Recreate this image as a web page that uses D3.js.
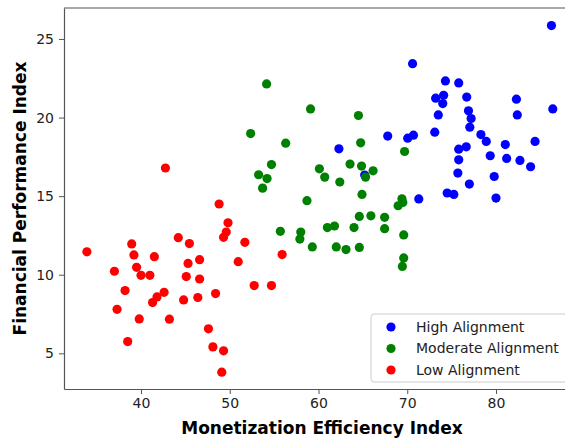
<!DOCTYPE html>
<html>
<head>
<meta charset="utf-8">
<script src="https://cdn.jsdelivr.net/npm/d3@7"></script>
<style>
    body { margin: 0; background: #fff; }
    svg { display: block; font-family: 'DejaVu Sans', sans-serif; }
</style>
</head>
<body>
<svg id="chart" width="565" height="439"></svg>
<script>

// data
const groupNames = ['High Alignment', 'Moderate Alignment', 'Low Alignment'];
const groupColors = ['#0000ff', '#008000', '#ff0000'];

const highX = [86.25, 70.6, 74.3, 75.8, 73.2, 74.1, 74.0, 76.7, 82.3, 86.4, 76.9, 77.2, 73.5,
    82.4, 77.05, 73.1, 70.05, 70.7, 78.3, 78.9, 84.4, 81.05, 75.8, 76.65, 75.8, 79.35, 81.2,
    82.7, 83.9, 75.7, 79.8, 77.0, 74.5, 75.25, 80.0, 71.3, 67.8, 62.3, 65.2];
const highY = [25.85, 23.43, 22.33, 22.2, 21.23, 21.42, 20.89, 21.3, 21.17, 20.55, 20.43, 19.94, 20.17,
    20.17, 19.39, 19.07, 18.69, 18.88, 18.92, 18.48, 18.48, 18.28, 17.99, 18.14, 17.31, 17.57, 17.4,
    17.27, 16.87, 16.47, 16.25, 15.77, 15.2, 15.11, 14.88, 14.82, 18.82, 18.01, 16.34];

const moderateX = [54.15, 52.35, 56.3, 54.7, 53.25, 54.2, 53.7, 59.1, 64.5, 64.75, 69.7, 60.1, 60.7,
    63.55, 64.85, 66.15, 65.3, 62.4, 64.9, 58.7, 69.4, 68.97, 69.5, 64.6, 65.9, 67.45, 61.0,
    61.8, 64.0, 67.45, 69.6, 62.0, 63.1, 64.6, 69.6, 69.45, 55.7, 58.0, 57.9, 59.3];
const moderateY = [22.14, 18.98, 18.37, 17.01, 16.36, 16.12, 15.51, 20.55, 20.13, 18.39, 17.84, 16.74, 16.21,
    17.04, 16.91, 16.61, 16.21, 15.9, 15.11, 14.71, 14.83, 14.39, 14.6, 13.71, 13.75, 13.65, 13.0,
    13.1, 13.0, 12.93, 12.53, 11.77, 11.6, 11.74, 11.07, 10.53, 12.76, 12.72, 12.27, 11.77];

const lowX = [33.9, 37.0, 38.95, 39.2, 39.5, 40.0, 41.0, 41.5, 38.2, 37.3, 39.8, 38.5, 41.3,
    41.8, 42.6, 43.2, 44.2, 45.45, 45.3, 45.1, 44.8, 46.6, 46.6, 46.4, 48.4, 47.6, 48.1,
    49.3, 49.1, 48.8, 49.8, 49.6, 49.3, 51.7, 50.95, 52.75, 54.7, 55.9, 42.75];
const lowY = [11.46, 10.22, 11.96, 11.26, 10.47, 9.96, 9.96, 11.15, 8.99, 7.8, 7.19, 5.75, 8.23,
    8.59, 8.88, 7.17, 12.36, 11.98, 10.72, 9.88, 8.4, 10.96, 9.73, 8.55, 8.8, 6.56, 5.41,
    5.16, 3.8, 14.5, 13.3, 12.72, 12.38, 12.06, 10.83, 9.31, 9.31, 11.28, 16.79];

const xTicks = [40, 50, 60, 70, 80];
const yTicks = [5, 10, 15, 20, 25];
const xTitle = 'Monetization Efficiency Index';
const yTitle = 'Financial Performance Index';

(function () {

    let svg = d3.select('#chart'),
        left = 64,
        right = 574,   //right spine falls just outside the picture
        top = 8,
        bottom = 389,
        radius = 4.6,
        spineColor = '#555',
        textColor = '#222',
        tickFont = 14,
        titleFont = 17
        ;

    let x = d3.scaleLinear().domain([31.32, 88.79]).range([left, right]);
    let y = d3.scaleLinear().domain([2.73, 26.97]).range([bottom, top]);

    //one list of points per group, drawn in legend order
    let groups = [
        {name: groupNames[0], color: groupColors[0], xs: highX, ys: highY},
        {name: groupNames[1], color: groupColors[1], xs: moderateX, ys: moderateY},
        {name: groupNames[2], color: groupColors[2], xs: lowX, ys: lowY}
    ];

    //points
    let plot = svg.append('g');
    groups.forEach(function (g) {
        plot.append('g')
            .selectAll('circle')
            .data(g.xs.map(function (v, i) { return [v, g.ys[i]]; }))
            .enter().append('circle')
            .attr('cx', function (d) { return x(d[0]); })
            .attr('cy', function (d) { return y(d[1]); })
            .attr('r', radius)
            .attr('fill', g.color);
    });

    //axes
    let xAxis = svg.append('g')
        .attr('transform', 'translate(0,' + bottom + ')')
        .call(d3.axisBottom(x).tickValues(xTicks).tickSize(5).tickPadding(4).tickSizeOuter(0));

    let yAxis = svg.append('g')
        .attr('transform', 'translate(' + left + ',0)')
        .call(d3.axisLeft(y).tickValues(yTicks).tickSize(5).tickPadding(5).tickSizeOuter(0));

    [xAxis, yAxis].forEach(function (a) {
        a.select('.domain').attr('stroke', spineColor).attr('stroke-width', 1.2);
        a.selectAll('.tick line').attr('stroke', spineColor).attr('stroke-width', 1);
        a.selectAll('.tick text')
            .attr('fill', textColor)
            .style('font-size', tickFont + 'px')
            .style('font-family', "'DejaVu Sans', sans-serif");
    });

    //top spine
    svg.append('line')
        .attr('x1', left).attr('x2', right)
        .attr('y1', top).attr('y2', top)
        .attr('stroke', spineColor)
        .attr('stroke-width', 1.2);

    //axis titles
    svg.append('text')
        .attr('x', 322)
        .attr('y', 434)
        .attr('text-anchor', 'middle')
        .style('font-size', titleFont + 'px')
        .style('font-weight', 'bold')
        .text(xTitle);

    svg.append('text')
        .attr('transform', 'translate(26,' + (top + bottom) / 2 + ') rotate(-90)')
        .attr('text-anchor', 'middle')
        .style('font-size', titleFont + 'px')
        .style('font-weight', 'bold')
        .text(yTitle);

    //legend
    let legend = svg.append('g')
        .attr('transform', 'translate(371,314)');

    legend.append('rect')
        .attr('width', 200)
        .attr('height', 68)
        .attr('rx', 3)
        .attr('fill', 'rgba(255,255,255,0.8)')
        .attr('stroke', '#cccccc');

    let item = legend.selectAll('.legend-item')
        .data(groups)
        .enter().append('g')
        .attr('class', 'legend-item')
        .attr('transform', function (d, i) { return 'translate(0,' + (13 + i * 21.5) + ')'; });

    item.append('circle')
        .attr('cx', 20)
        .attr('r', radius)
        .attr('fill', function (d) { return d.color; });

    item.append('text')
        .attr('x', 45)
        .attr('dy', '0.35em')
        .attr('fill', textColor)
        .style('font-size', tickFont + 'px')
        .text(function (d) { return d.name; });

}());
</script>
</body>
</html>
